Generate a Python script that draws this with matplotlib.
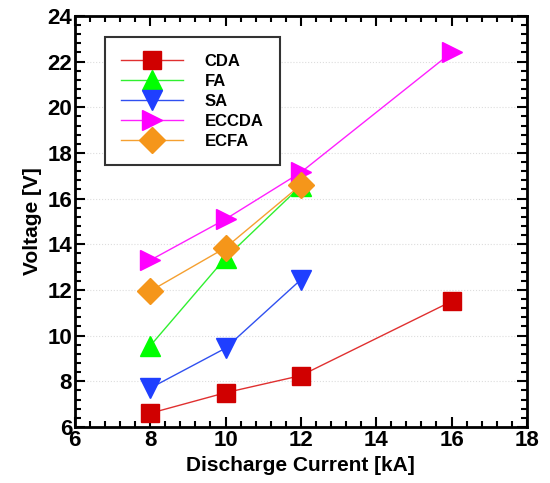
import matplotlib.pyplot as plt
from matplotlib.ticker import MultipleLocator

plt.rcParams['font.family'] = ['Liberation Sans', 'DejaVu Sans']
plt.rcParams['font.weight'] = 'bold'

# Discharge current [kA] and measured voltage [V] per method
current_long = [8, 10, 12, 16]
current_short = [8, 10, 12]

cda = [6.6, 7.5, 8.25, 11.5]
fa = [9.55, 13.4, 16.55]
sa = [7.7, 9.45, 12.45]
eccda = [13.3, 15.1, 17.15, 22.4]
ecfa = [11.95, 13.85, 16.6]

series = [
    ("CDA", current_long, cda, "s", "#d00000", "#e03030", 13),
    ("FA", current_short, fa, "^", "#00ff00", "#30f030", 15),
    ("SA", current_short, sa, "v", "#1f3fff", "#3050f0", 15),
    ("ECCDA", current_long, eccda, ">", "#ff00ff", "#ff20ff", 15),
    ("ECFA", current_short, ecfa, "D", "#f5961a", "#f5a030", 13),
]

fig = plt.figure(figsize=(5.5, 4.83), dpi=100)
ax = fig.add_axes([0.136, 0.116, 0.822, 0.851])

for name, x, y, m, mc, lc, ms in series:
    ax.plot(x, y, color=lc, linewidth=1.0, marker=m, markersize=ms,
            markerfacecolor=mc, markeredgecolor=mc, label=name)

ax.set_xlim(6, 18)
ax.set_ylim(6, 24)
ax.xaxis.set_major_locator(MultipleLocator(2))
ax.xaxis.set_minor_locator(MultipleLocator(0.4))
ax.yaxis.set_major_locator(MultipleLocator(2))
ax.yaxis.set_minor_locator(MultipleLocator(0.4))
ax.tick_params(which='both', direction='in', top=True, right=True, width=1.5)
ax.tick_params(which='major', length=7, labelsize=16, pad=2)
ax.tick_params(which='minor', length=4)
ax.grid(axis='y', which='major', linestyle=':', color='#dddddd', linewidth=0.8)
for sp in ax.spines.values():
    sp.set_linewidth(2)

ax.set_xlabel("Discharge Current [kA]", fontsize=15, fontweight='bold', labelpad=4)
ax.set_ylabel("Voltage [V]", fontsize=15, fontweight='bold', labelpad=4)

leg = ax.legend(loc='upper left', bbox_to_anchor=(0.066, 0.949), borderaxespad=0,
                prop={'size': 12, 'weight': 'bold'},
                handlelength=3.7, handletextpad=1.3, labelspacing=0.3,
                borderpad=1.0, fancybox=False, edgecolor='#333333', framealpha=1)
leg.get_frame().set_linewidth(1.5)

fig.savefig("out.png", dpi=100)
